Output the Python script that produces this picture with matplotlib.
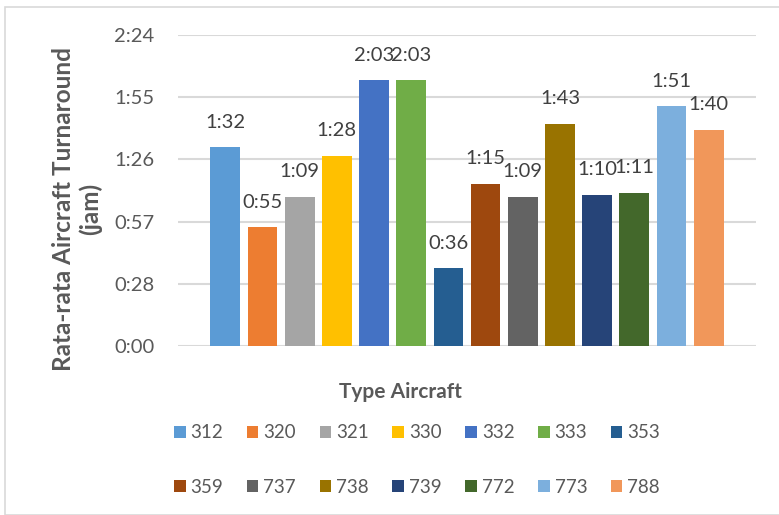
import matplotlib.pyplot as plt
from matplotlib.patches import Patch, Rectangle
import numpy as np

# Average turnaround per aircraft type, in minutes
aircraft_types = ['312', '320', '321', '330', '332', '333', '353',
                  '359', '737', '738', '739', '772', '773', '788']
turnaround_min = [92, 55, 69, 88, 123, 123, 36, 75, 69, 103, 70, 71, 111, 100]
bar_colours = ['#5B9BD5', '#ED7D31', '#A5A5A5', '#FFC000', '#4472C4', '#70AD47', '#255E91',
               '#9E480E', '#636363', '#997300', '#264478', '#43682B', '#7CAFDD', '#F1975A']
ytick_labels = ['0:00', '0:28', '0:57', '1:26', '1:55', '2:24']

text_col = '#595959'
grid_col = '#D9D9D9'
plt.rcParams['font.family'] = ['Lato', 'DejaVu Sans']

def hm(minutes):
    return f'{int(minutes) // 60}:{int(minutes) % 60:02d}'

fig = plt.figure(figsize=(7.79, 5.15), dpi=100)
ax = fig.add_axes([178/779, 169/515, 578/779, 311/515])

# chart area border
fig.patches.append(Rectangle((5/779, 0), 1, 1 - 7/515, transform=fig.transFigure,
                             fill=False, edgecolor=grid_col, linewidth=1.2))

x = np.arange(len(aircraft_types))
bars = ax.bar(x, turnaround_min, width=0.8, color=bar_colours, zorder=3)
for xi, v in zip(x, turnaround_min):
    ax.annotate(hm(v), (xi, v), xytext=(0, 12), textcoords='offset points',
                ha='center', va='bottom', fontsize=14.5, color='#404040', zorder=4)

# y axis ticks every 0.02 day (28.8 minutes)
yticks = np.arange(len(ytick_labels)) * 28.8
ax.set_yticks(yticks)
ax.set_yticklabels(ytick_labels)
ax.set_ylim(0, yticks[-1])
ax.set_xlim(-1.27, len(aircraft_types) - 1 + 1.27)
ax.set_xticks([])
ax.tick_params(axis='y', length=0, pad=17, labelsize=14.5, labelcolor=text_col)
for s in ax.spines.values():
    s.set_visible(False)
ax.grid(axis='y', color=grid_col, linewidth=1.5, zorder=0)

fig.text(77/779, 1 - 209/515, 'Rata-rata Aircraft Turnaround\n(jam)', rotation=90,
         ha='center', va='center', multialignment='center', fontsize=17.5,
         fontweight='bold', color=text_col, linespacing=1.15)
fig.text(400/779, 1 - 392/515, 'Type Aircraft', ha='center', va='center',
         fontsize=15, fontweight='bold', color=text_col)

# legend fills row by row: 7 per row
handles = [Patch(facecolor=c, edgecolor='none') for c in bar_colours]
order = [i + r * 7 for i in range(7) for r in range(2)]
leg = fig.legend([handles[i] for i in order], [aircraft_types[i] for i in order],
                 ncol=7, loc='center', bbox_to_anchor=(417/779, 1 - 460/515),
                 frameon=False, fontsize=13.5, handlelength=0.62, handleheight=0.62,
                 handletextpad=0.27, columnspacing=1.25, labelspacing=2.0,
                 labelcolor=text_col)

fig.savefig('out.png', dpi=100)
